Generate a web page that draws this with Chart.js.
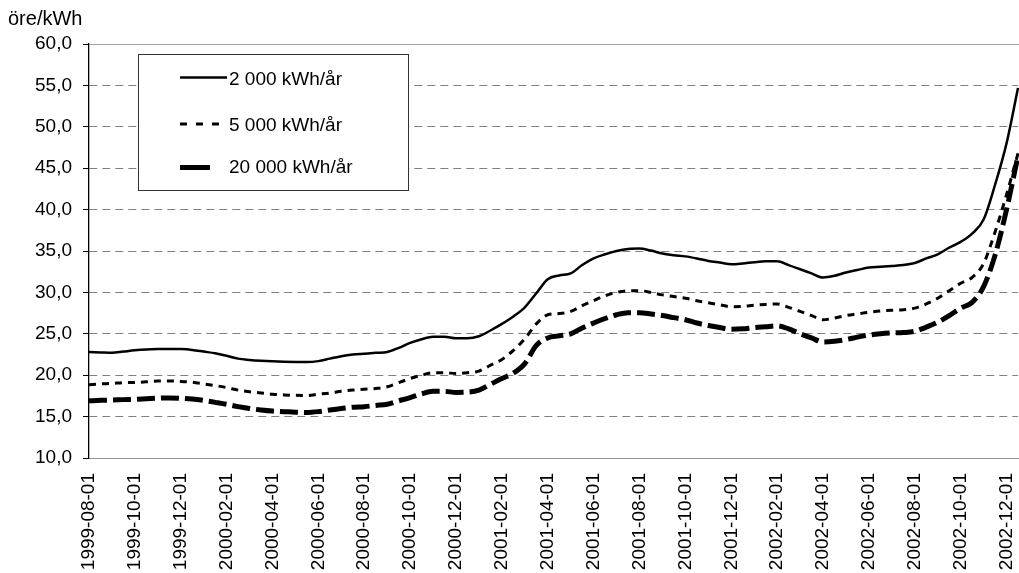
<!DOCTYPE html>
<html>
<head>
<meta charset="utf-8">
<script src="https://cdn.jsdelivr.net/npm/chart.js@4.4.1/dist/chart.umd.min.js"></script>
<style>
  html, body { margin: 0; padding: 0; background: #fff; }
  #chart { display: block; }
</style>
</head>
<body>
<canvas id="chart" width="1019" height="573"></canvas>
<script>
// Semi-monthly price dates, 1999-08-01 .. 2002-12-15
const dates = [];
for (let y = 1999; y <= 2002; y++) {
  for (let m = 1; m <= 12; m++) {
    if (y === 1999 && m < 8) continue;
    const mm = String(m).padStart(2, '0');
    dates.push(`${y}-${mm}-01`, `${y}-${mm}-15`);
  }
}

const seriesNames = ['2 000 kWh/år', '5 000 kWh/år', '20 000 kWh/år'];

// öre/kWh
const kwh2000 = [
  22.8, 22.75, 22.7, 22.85, 23.0, 23.1, 23.15, 23.17, 23.15, 23.05,
  22.85, 22.65, 22.35, 22.0, 21.85, 21.75, 21.68, 21.63, 21.6, 21.58,
  21.7, 22.0, 22.3, 22.5, 22.6, 22.7, 22.8, 23.3, 23.9, 24.35,
  24.65, 24.65, 24.45, 24.45, 24.7, 25.4, 26.2, 27.1, 28.2, 29.9,
  31.6, 32.05, 32.3, 33.3, 34.1, 34.6, 35.0, 35.25, 35.3, 35.05,
  34.7, 34.5, 34.35, 34.1, 33.8, 33.6, 33.4, 33.5, 33.65, 33.75,
  33.75, 33.3, 32.8, 32.3, 31.8, 32.0, 32.4, 32.7, 33.0, 33.1,
  33.2, 33.3, 33.55, 34.1, 34.6, 35.4, 36.1, 37.1, 38.8, 43.0,
  48.0, 54.7
];
const kwh5000 = [
  18.85, 18.95, 19.0, 19.1, 19.12, 19.2, 19.3, 19.3, 19.25, 19.15,
  18.95, 18.75, 18.5, 18.2, 18.0, 17.85, 17.7, 17.62, 17.57, 17.55,
  17.7, 17.85, 18.05, 18.2, 18.3, 18.4, 18.6, 19.1, 19.6, 20.0,
  20.3, 20.3, 20.2, 20.3, 20.5, 21.2, 21.9, 23.0, 24.4, 26.2,
  27.3, 27.45, 27.7, 28.4, 29.0, 29.6, 30.0, 30.2, 30.2, 30.0,
  29.7, 29.5, 29.3, 29.0, 28.75, 28.5, 28.27, 28.3, 28.45, 28.55,
  28.6, 28.2, 27.7, 27.2, 26.7, 26.9, 27.2, 27.4, 27.6, 27.75,
  27.85, 27.9, 28.1, 28.6, 29.3, 30.2, 31.1, 31.8, 33.5, 37.3,
  41.8, 46.8
];
const kwh20000 = [
  16.9, 16.97, 17.0, 17.05, 17.08, 17.15, 17.22, 17.26, 17.22, 17.12,
  16.95, 16.72, 16.48, 16.2, 15.98, 15.8, 15.67, 15.6, 15.53, 15.5,
  15.6, 15.8, 15.98, 16.13, 16.2, 16.35, 16.5, 16.9, 17.3, 17.75,
  18.05, 18.05, 17.92, 17.95, 18.2, 18.9, 19.6, 20.25, 21.4, 23.6,
  24.5, 24.75, 25.0, 25.7, 26.3, 26.85, 27.3, 27.55, 27.55, 27.4,
  27.2, 26.95, 26.7, 26.3, 26.0, 25.75, 25.55, 25.6, 25.75, 25.85,
  25.95, 25.6, 25.0, 24.5, 24.0, 24.1, 24.3, 24.6, 24.85, 25.0,
  25.1, 25.15, 25.3, 25.8, 26.4, 27.2, 28.1, 28.8, 30.7, 34.5,
  40.0, 46.5
];

const yMin = 10, yMax = 60, yStep = 5;
const yTitle = 'öre/kWh';

const FONT = '"Liberation Sans", Arial, sans-serif';

// legend drawn as a framed box inside the plot, like the original
const legendDashes = [[], [7, 9], [30, 17]];
const legendLineY = [77.5, 124, 167.5];
const legendTextY = [79.5, 126, 168];

const boxLegend = {
  id: 'boxLegend',
  beforeDatasetsDraw(chart) {
    // light plot-area frame along the top
    const { ctx, chartArea } = chart;
    ctx.save();
    ctx.strokeStyle = '#a0a0a0';
    ctx.lineWidth = 1;
    ctx.beginPath();
    ctx.moveTo(chartArea.left, Math.round(chartArea.top) + 0.5);
    ctx.lineTo(chartArea.right + 1, Math.round(chartArea.top) + 0.5);
    ctx.stroke();
    ctx.restore();
  },
  afterDatasetsDraw(chart) {
    const ctx = chart.ctx;
    ctx.save();
    ctx.fillStyle = '#fff';
    ctx.fillRect(138.5, 54.5, 270, 136);
    ctx.strokeStyle = '#333';
    ctx.lineWidth = 1;
    ctx.strokeRect(138.5, 54.5, 270, 136);

    chart.data.datasets.forEach((ds, i) => {
      ctx.setLineDash(legendDashes[i]);
      ctx.lineWidth = ds.borderWidth;
      ctx.strokeStyle = ds.borderColor;
      ctx.lineCap = 'butt';
      ctx.beginPath();
      ctx.moveTo(180, legendLineY[i]);
      ctx.lineTo(227, legendLineY[i]);
      ctx.stroke();
      ctx.setLineDash([]);
      ctx.fillStyle = '#000';
      ctx.font = '19px ' + FONT;
      ctx.textBaseline = 'middle';
      ctx.textAlign = 'left';
      ctx.fillText(ds.label, 229, legendTextY[i]);
    });

    // unit label above the y axis
    ctx.font = '20px ' + FONT;
    ctx.textBaseline = 'middle';
    ctx.fillText(yTitle, 8, 19);
    ctx.restore();
  }
};

new Chart(document.getElementById('chart'), {
  type: 'line',
  data: {
    labels: dates,
    datasets: [
      {
        label: seriesNames[0],
        data: kwh2000,
        borderColor: '#000',
        borderWidth: 2.5,
        borderDash: [],
      },
      {
        label: seriesNames[1],
        data: kwh5000,
        borderColor: '#000',
        borderWidth: 3,
        borderDash: [7, 6],
      },
      {
        label: seriesNames[2],
        data: kwh20000,
        borderColor: '#000',
        borderWidth: 5,
        borderDash: [18, 6],
      },
    ],
  },
  options: {
    responsive: false,
    animation: false,
    layout: { padding: { top: 44, right: 1, left: 0, bottom: 0 } },
    elements: {
      point: { radius: 0 },
      line: { cubicInterpolationMode: 'monotone', fill: false, borderCapStyle: 'butt' },
    },
    plugins: {
      legend: { display: false },
      tooltip: { enabled: false },
    },
    scales: {
      x: {
        offset: false,
        grid: { display: false, drawTicks: false },
        border: { display: true, color: '#999', width: 1 },
        ticks: {
          autoSkip: false,
          maxRotation: 90,
          minRotation: 90,
          padding: 15,
          color: '#000',
          font: { family: FONT, size: 19 },
          callback: function (v, i) {
            return i % 4 === 0 ? this.getLabelForValue(v) : null;
          },
        },
        afterFit: (s) => {
          s.height = 115;
          s.paddingLeft = 0;
          s.paddingRight = 0;
        },
      },
      y: {
        min: yMin,
        max: yMax,
        grid: {
          color: '#808080',
          lineWidth: 1,
          tickColor: '#000',
          tickLength: 6,
          tickWidth: 1,
        },
        border: { display: true, color: '#000', width: 1.3, dash: [8, 5] },
        ticks: {
          stepSize: yStep,
          padding: 11,
          color: '#000',
          font: { family: FONT, size: 19 },
          callback: (v) => v.toFixed(1).replace('.', ','),
        },
        afterFit: (s) => { s.width = 89; },
      },
    },
  },
  plugins: [boxLegend],
});
</script>
</body>
</html>
